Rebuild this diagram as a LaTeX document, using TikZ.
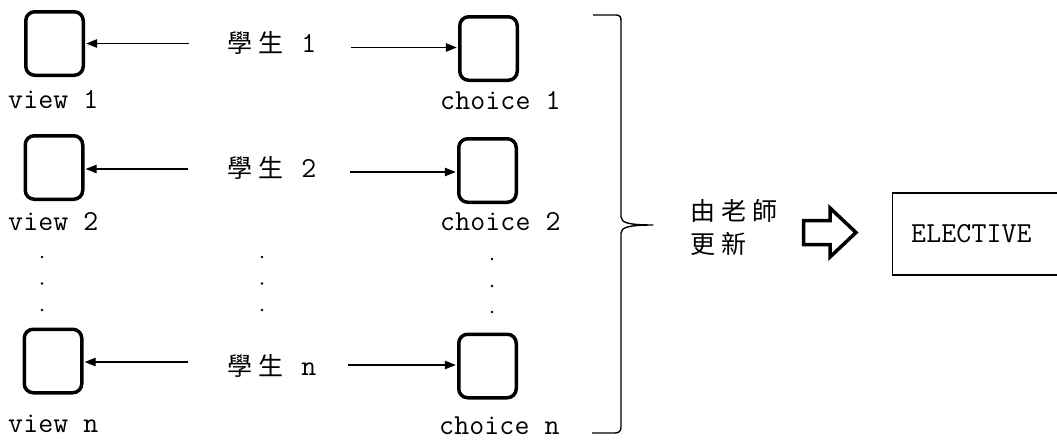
\documentclass[tikz,border=0pt]{standalone}
\usepackage{fontspec}
\setmonofont{Latin Modern Mono}[LetterSpace=0.5]
\newfontfamily\cjk{Noto Sans CJK TC}
\usetikzlibrary{arrows.meta}
\newcommand\zh[1]{\makebox[31pt]{\cjk\fontsize{25}{30}\selectfont #1}}
\tikzset{
  vbox/.style={draw, line width=3.5pt, rounded corners=9pt, minimum width=57.5pt, minimum height=63.5pt, inner sep=0pt},
  lbl/.style={font=\ttfamily\fontsize{29}{30}\selectfont, inner sep=0pt, anchor=base west},
  arr/.style={-{Triangle[length=11pt,width=8.5pt]}, line width=1.2pt, shorten >=1.2pt},
  dotmark/.style={fill=black},
  brace/.style={line width=1.4pt, line join=round},
  hollow/.style={line width=3.5pt, line join=miter, fill=white},
  elbox/.style={draw, line width=1.4pt, minimum width=200pt, minimum height=82pt, inner sep=0pt, anchor=west},
}
\begin{document}
\begin{tikzpicture}[x=1pt,y=-1pt]
\useasboundingbox[fill=white] (0,0) rectangle (1057,439);
% view boxes
\node[vbox] (v1) at (54.5,43.5) {};
\node[vbox] (v2) at (54,167.5) {};
\node[vbox] (vn) at (53,361) {};
% choice boxes
\node[vbox] (c1) at (488.5,48.5) {};
\node[vbox] (c2) at (487.5,170.5) {};
\node[vbox] (cn) at (487.5,366) {};
% labels
\node[lbl] (lv1) at (8,108) {view 1};
\node[lbl] (lv2) at (8,230) {view 2};
\node[lbl] (lvn) at (8,432) {view n};
\node[lbl] (lc1) at (440,109) {choice 1};
\node[lbl] (lc2) at (440,230) {choice 2};
\node[lbl] (lcn) at (439,434) {choice n};
% students
\node[lbl] (s1) at (224,52) {\zh{學}\zh{生} 1};
\node[lbl] (s2) at (224,177) {\zh{學}\zh{生} 2};
\node[lbl] (sn) at (224,375) {\zh{學}\zh{生} n};
% arrow tails
\coordinate (a1) at (189,43.5);
\coordinate (a2) at (188,169);
\coordinate (an) at (188,362);
\coordinate (b1) at (351,47.5);
\coordinate (b2) at (350,172);
\coordinate (bn) at (348,365);
\draw[arr] (a1) -- (a1 -| v1.east);
\draw[arr] (a2) -- (a2 -| v2.east);
\draw[arr] (an) -- (an -| vn.east);
\draw[arr] (b1) -- (b1 -| c1.west);
\draw[arr] (b2) -- (b2 -| c2.west);
\draw[arr] (bn) -- (bn -| cn.west);
% dots
\foreach \x/\ya/\yb/\yc in {42/257/283.5/310, 262/257/283.5/310, 492/259/286/312}{
  \fill[dotmark] (\x,\ya) circle (1.4);
  \fill[dotmark] (\x,\yb) circle (1.4);
  \fill[dotmark] (\x,\yc) circle (1.4);
}
% brace
\draw[brace] (593,15) -- (616,15) .. controls (620,15) and (621,17) .. (621,21)
  -- (621,217) .. controls (621,223) and (630,225) .. (653,225)
  .. controls (630,225) and (621,227) .. (621,233)
  -- (621,427) .. controls (621,431) and (619,433) .. (615,433) -- (592,433);
% teacher text
\node[lbl] (t1) at (687,220) {\zh{由}\zh{老}\zh{師}};
\node[lbl] (t2) at (687,253) {\zh{更}\zh{新}};
% hollow arrow
\draw[hollow] (803.5,220.5) -- (830,220.5) -- (830,208) -- (856,232.5) -- (830,257) -- (830,244.5) -- (803.5,244.5) -- cycle;
% elective box
\node[elbox] (el) at (891.7,234) {};
\node[lbl] (elt) at (911,242) {ELECTIVE};
\end{tikzpicture}
\end{document}
